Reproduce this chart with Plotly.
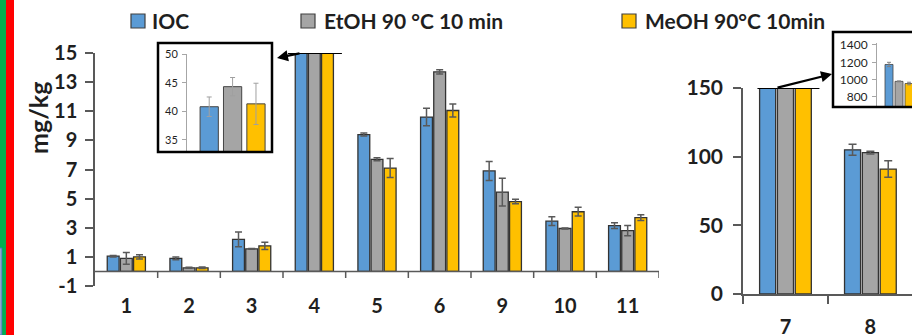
import plotly.graph_objects as go

W, H = 912, 335

# ---------------- data ----------------
series_names = ["IOC", "EtOH 90 °C 10 min", "MeOH 90°C 10min"]
series_colors = ["#5B9BD5", "#A5A5A5", "#FFC000"]

cats_left = ["1", "2", "3", "4", "5", "6", "9", "10", "11"]
ioc_left = [1.05, 0.9, 2.2, 40.8, 9.4, 10.6, 6.9, 3.45, 3.15]
ioc_left_err = [0.05, 0.1, 0.5, 1.7, 0.1, 0.6, 0.65, 0.3, 0.2]
etoh_left = [0.9, 0.25, 1.55, 44.3, 7.7, 13.7, 5.45, 2.95, 2.8]
etoh_left_err = [0.4, 0.03, 0.03, 1.6, 0.1, 0.15, 0.95, 0.03, 0.35]
meoh_left = [1.0, 0.25, 1.75, 41.3, 7.1, 11.05, 4.8, 4.1, 3.7]
meoh_left_err = [0.15, 0.05, 0.25, 3.6, 0.65, 0.45, 0.15, 0.3, 0.2]

cats_right = ["7", "8"]
ioc_right = [1175, 105]
ioc_right_err = [25, 4]
etoh_right = [980, 103]
etoh_right_err = [5, 1]
meoh_right = [955, 91]
meoh_right_err = [15, 6]

left_ticks = [-1, 1, 3, 5, 7, 9, 11, 13, 15]
left_ticktext = ["-1", "1", "3", "5", "7", "9", "11", "13", "15"]
right_ticks = [0, 50, 100, 150]
inset_left_ticks = [35, 40, 45, 50]
inset_right_ticks = [800, 1000, 1200, 1400]

# index of clipped categories shown in insets
inset_left_idx = cats_left.index("4")
inset_right_idx = cats_right.index("7")

# ---------------- helpers ----------------
def px_x(p):
    return p / W

def px_y(p):
    return 1 - p / H

FONT = "Lato"
TXT = "#1f1f1f"
AX = "#595959"
OUTLINE = "#333333"

left_vals = [ioc_left, etoh_left, meoh_left]
left_errs = [ioc_left_err, etoh_left_err, meoh_left_err]
right_vals = [ioc_right, etoh_right, meoh_right]
right_errs = [ioc_right_err, etoh_right_err, meoh_right_err]

fig = go.Figure()

for name, col, v, e in zip(series_names, series_colors, left_vals, left_errs):
    fig.add_trace(go.Bar(
        x=cats_left, y=v, name=name, xaxis="x", yaxis="y",
        marker=dict(color=col, line=dict(color=OUTLINE, width=1.3)),
        error_y=dict(type="data", array=e, color=AX, thickness=1.5, width=3.5),
        showlegend=False,
    ))

for name, col, v, e in zip(series_names, series_colors, right_vals, right_errs):
    fig.add_trace(go.Bar(
        x=cats_right, y=v, name=name, xaxis="x2", yaxis="y2",
        marker=dict(color=col, line=dict(color=OUTLINE, width=1.3)),
        error_y=dict(type="data", array=e, color=AX, thickness=1.5, width=4),
        showlegend=False,
    ))

# left inset (category 4 real values)
fig.add_trace(go.Bar(
    x=[0, 1, 2], y=[v[inset_left_idx] for v in left_vals],
    xaxis="x3", yaxis="y3", width=0.78,
    marker=dict(color=series_colors, line=dict(color="#444444", width=1)),
    error_y=dict(type="data", array=[e[inset_left_idx] for e in left_errs],
                 color="#A0A0A0", thickness=1, width=2.5),
    showlegend=False,
))

# right inset (category 7 real values)
fig.add_trace(go.Bar(
    x=[0, 1, 2], y=[v[inset_right_idx] for v in right_vals],
    xaxis="x4", yaxis="y4", width=0.8,
    marker=dict(color=series_colors, line=dict(color="#444444", width=0.8)),
    error_y=dict(type="data", array=[e[inset_right_idx] for e in right_errs],
                 color="#808080", thickness=1, width=2),
    showlegend=False,
))

tickfont = dict(family=FONT, size=20, color=TXT, weight="bold")

fig.update_layout(
    template="none",
    width=W, height=H, autosize=False,
    margin=dict(l=0, r=0, t=0, b=0, pad=0),
    paper_bgcolor="white", plot_bgcolor="rgba(0,0,0,0)",
    barmode="group", bargap=0.37, bargroupgap=0.1,
    xaxis=dict(domain=[px_x(95), px_x(659)], range=[-0.5, 8.5], type="category",
               showline=False, ticks="", showgrid=False, zeroline=False, automargin=False,
               tickfont=tickfont, anchor="y", ticklabelstandoff=6),
    yaxis=dict(domain=[px_y(286), px_y(53)], range=[-1, 15],
               showline=True, linecolor=AX, linewidth=1.5,
               ticks="outside", ticklen=8, tickcolor=AX, tickwidth=1.5,
               tickvals=left_ticks, ticktext=left_ticktext, automargin=False,
               showgrid=False, zeroline=False, tickfont=tickfont, anchor="x",
               ticklabelstandoff=4),
    xaxis2=dict(domain=[px_x(743), 1.0], range=[-0.5, 1.49], type="category",
                showline=True, linecolor=AX, linewidth=1.5, automargin=False,
                ticks="outside", tickson="boundaries", ticklen=8, tickcolor=AX, tickwidth=1.5,
                showgrid=False, zeroline=False, tickfont=tickfont, anchor="y2",
                ticklabelstandoff=14),
    yaxis2=dict(domain=[px_y(294), px_y(88)], range=[0, 150],
                showline=True, linecolor=AX, linewidth=1.5, automargin=False,
                ticks="outside", ticklen=8, tickcolor=AX, tickwidth=1.5,
                tickvals=right_ticks, showgrid=False, zeroline=False,
                tickfont=dict(family=FONT, size=21, color=TXT, weight="bold"),
                anchor="x2", ticklabelstandoff=6),
    xaxis3=dict(domain=[px_x(187), px_x(270)], range=[-0.95, 2.6], automargin=False,
                showline=False, showticklabels=False, ticks="", showgrid=False,
                zeroline=False, anchor="y3"),
    yaxis3=dict(domain=[px_y(152), px_y(54)], range=[32.9, 50], automargin=False,
                showline=True, linecolor="#A6A6A6", linewidth=1,
                ticks="outside", ticklen=4, tickcolor="#A6A6A6",
                tickvals=inset_left_ticks, showgrid=False, zeroline=False,
                tickfont=dict(family=FONT, size=11, color=TXT), anchor="x3",
                ticklabelstandoff=2),
    xaxis4=dict(domain=[px_x(877), 1.0], range=[-1.2, 2.3], automargin=False,
                showline=False, showticklabels=False, ticks="", showgrid=False,
                zeroline=False, anchor="y4"),
    yaxis4=dict(domain=[px_y(107), px_y(43)], range=[684, 1423], automargin=False,
                showline=True, linecolor="#A6A6A6", linewidth=1,
                ticks="outside", ticklen=4, tickcolor="#A6A6A6",
                tickvals=inset_right_ticks, showgrid=False, zeroline=False,
                tickfont=dict(family=FONT, size=12, color=TXT), anchor="x4",
                ticklabelstandoff=2),
)

shapes = []
# side colour strips
shapes.append(dict(type="rect", xref="paper", yref="paper", x0=0, x1=px_x(6), y0=0, y1=1,
                   fillcolor="#00B050", line=dict(width=0), layer="above"))
shapes.append(dict(type="rect", xref="paper", yref="paper", x0=px_x(6), x1=px_x(14), y0=0, y1=1,
                   fillcolor="#FF0000", line=dict(width=0), layer="above"))
shapes.append(dict(type="rect", xref="paper", yref="paper", x0=0, x1=px_x(1.8), y0=0, y1=px_y(248),
                   fillcolor="#D9D9D9", line=dict(color="#4472C4", width=1), layer="above"))
# left zero line and boundary ticks
shapes.append(dict(type="line", xref="x", yref="y", x0=-0.5, x1=8.5, y0=0, y1=0,
                   line=dict(color=AX, width=1.5), layer="above"))
for i in range(len(cats_left)):
    shapes.append(dict(type="line", xref="x", yref="y", x0=i + 0.5, x1=i + 0.5, y0=0, y1=-0.45,
                       line=dict(color=AX, width=1.5), layer="above"))
# break lines on top of clipped bars
shapes.append(dict(type="line", xref="x", yref="y", x0=inset_left_idx - 0.42, x1=inset_left_idx + 0.44,
                   y0=15, y1=15, line=dict(color="black", width=2), layer="above"))
shapes.append(dict(type="line", xref="x2", yref="y2", x0=inset_right_idx - 0.33, x1=inset_right_idx + 0.4,
                   y0=150, y1=150, line=dict(color="black", width=2), layer="above"))
# inset frames
shapes.append(dict(type="rect", xref="paper", yref="paper", x0=px_x(158), x1=px_x(272),
                   y0=px_y(152), y1=px_y(43), line=dict(color="black", width=2.5), layer="above"))
shapes.append(dict(type="rect", xref="paper", yref="paper", x0=px_x(833), x1=px_x(915),
                   y0=px_y(107), y1=px_y(32), line=dict(color="black", width=2.5), layer="above"))
# legend swatches
for xs, col in zip([131, 301, 622], series_colors):
    shapes.append(dict(type="rect", xref="paper", yref="paper", x0=px_x(xs), x1=px_x(xs + 14),
                       y0=px_y(28), y1=px_y(14), fillcolor=col,
                       line=dict(color="#404040", width=1.2), layer="above"))
fig.update_layout(shapes=shapes)

ann = []
ann.append(dict(text="mg/kg", xref="paper", yref="paper", x=px_x(38), y=px_y(118),
                xanchor="center", yanchor="middle",
                textangle=-90, showarrow=False,
                font=dict(family=FONT, size=25, color=TXT, weight="bold")))
for xs, name in zip([150, 322, 643], series_names):
    ann.append(dict(text=name, xref="paper", yref="paper", x=px_x(xs), y=px_y(21),
                    xanchor="left", yanchor="middle", showarrow=False,
                    font=dict(family=FONT, size=21, color=TXT, weight="bold")))
# arrows to insets
ann.append(dict(text="", xref="paper", yref="paper", x=px_x(277), y=px_y(58),
                ax=24, ay=-5, axref="pixel", ayref="pixel", showarrow=True,
                arrowhead=2, arrowsize=1, arrowwidth=2.2, arrowcolor="black"))
ann.append(dict(text="", xref="paper", yref="paper", x=px_x(832), y=px_y(74),
                ax=-56, ay=14, axref="pixel", ayref="pixel", showarrow=True,
                arrowhead=2, arrowsize=1, arrowwidth=2.2, arrowcolor="black"))
fig.update_layout(annotations=ann)

fig.write_html(
    "out.html",
    config={"displayModeBar": False},
    post_script="document.body.style.margin='0';document.body.style.padding='0';"
                "document.body.style.overflow='hidden';",
)
